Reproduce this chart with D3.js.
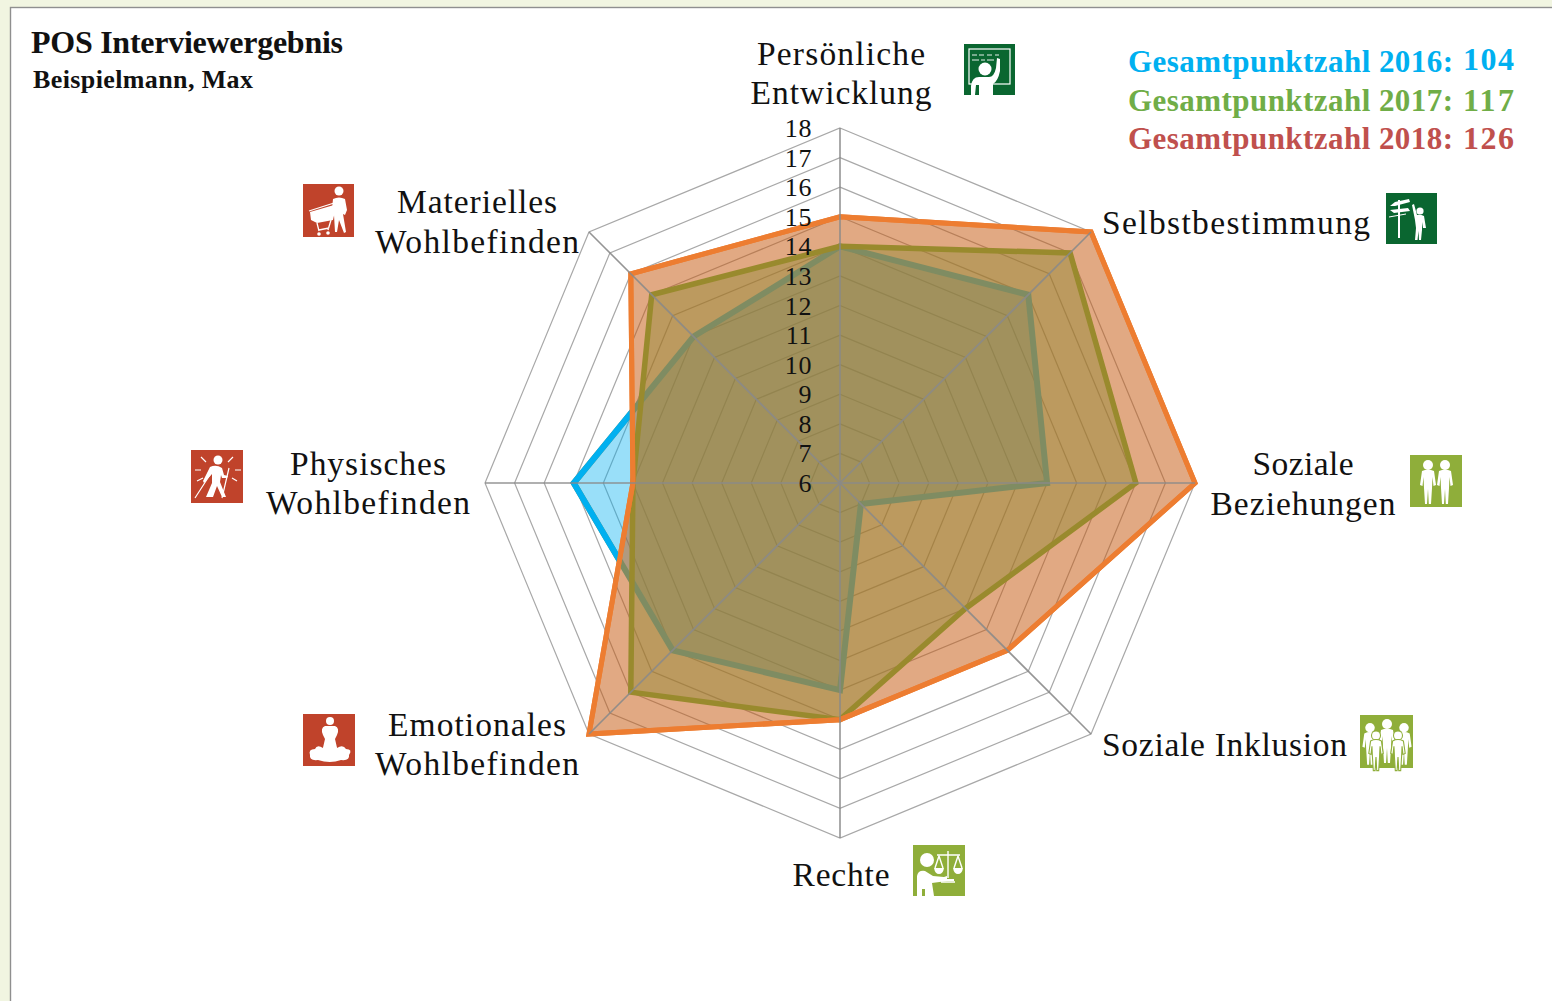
<!DOCTYPE html>
<html><head><meta charset="utf-8">
<script src="https://cdnjs.cloudflare.com/ajax/libs/d3/7.8.5/d3.min.js"></script>
<style>html,body{margin:0;padding:0;background:#f1f5e1;overflow:hidden}svg{display:block}
text{font-family:"Liberation Serif",serif;fill:#111}</style></head><body>
<svg id="c" width="1552" height="1001"></svg>
<script>
// ---- data ----
const categories = ["Persönliche Entwicklung","Selbstbestimmung","Soziale Beziehungen","Soziale Inklusion","Rechte","Emotionales Wohlbefinden","Physisches Wohlbefinden","Materielles Wohlbefinden"];
const tickValues = [6,7,8,9,10,11,12,13,14,15,16,17,18];
const values2016 = [14,15,13,7,13,14,15,13];
const values2017 = [14,17,16,12,14,16,13,15];
const values2018 = [15,18,18,14,14,18,13,16];
const legendLabels = ["Gesamtpunktzahl 2016:","Gesamtpunktzahl 2017:","Gesamtpunktzahl 2018:"];
const legendTotals = [104,117,126];
const titleText = "POS Interviewergebnis";
const subtitleText = "Beispielmann, Max";

// ---- layout ----
const cx=840, cy=483, R=355;
const svg=d3.select("#c");
const r=d3.scaleLinear().domain([6,18]).range([0,R]);
const angle=d3.scaleLinear().domain([0,categories.length]).range([0,2*Math.PI]);
const radial=d3.lineRadial().angle((d,i)=>angle(i)).radius(d=>r(d)).curve(d3.curveLinearClosed);

svg.append("rect").attr("x",10.5).attr("y",7.5).attr("width",1560).attr("height",1010)
  .attr("fill","#fff").attr("stroke","#8f8f8f").attr("stroke-width",1.4);

const g=svg.append("g").attr("transform",`translate(${cx},${cy})`);
// rings
g.selectAll("path.ring").data(tickValues.slice(1)).join("path").attr("class","ring")
  .attr("d",v=>radial(categories.map(()=>v))).attr("fill","none").attr("stroke","#a8a8a8").attr("stroke-width",1.2);
// series
const seriesStyle=[
 {v:values2016,s:"#00b0f0",f:"#00b0f0",o:.40,w:6},
 {v:values2017,s:"#70ad47",f:"#52b857",o:.45,w:5.5},
 {v:values2018,s:"#ed7d31",f:"#c55a11",o:.52,w:5}];
seriesStyle.forEach(d=>{
  g.append("path").attr("d",radial(d.v)).attr("fill",d.f).attr("fill-opacity",d.o).attr("stroke","none");
});
seriesStyle.forEach((d,i)=>{
  g.append("path").attr("d",radial(d.v)).attr("fill","none")
   .attr("stroke",["#7f8c62","#998a2d","#ed7d31"][i]).attr("stroke-width",d.w).attr("stroke-linejoin","miter");
});
// blue outline only where it is not covered by the other fills
const clip=svg.append("defs").append("clipPath").attr("id","outside");
clip.append("path").attr("clip-rule","evenodd")
  .attr("d",`M-900 -600H900V600H-900Z ${radial(values2018)}`);
g.append("path").attr("d",radial(values2016)).attr("fill","none").attr("stroke","#00b0f0")
  .attr("stroke-width",6).attr("clip-path","url(#outside)");
g.append("path").attr("d",radial(values2018)).attr("fill","none").attr("stroke","#ed7d31").attr("stroke-width",5);
// spokes
g.selectAll("line.spoke").data(categories).join("line").attr("class","spoke")
  .attr("x1",0).attr("y1",0)
  .attr("x2",(d,i)=>R*Math.sin(angle(i))).attr("y2",(d,i)=>-R*Math.cos(angle(i)))
  .attr("stroke","#8a8a8a").attr("stroke-width",1.6).attr("stroke-opacity",.9);
// tick labels
g.selectAll("text.tick").data(tickValues).join("text").attr("class","tick")
  .attr("x",-28).attr("y",v=>-r(v)+9).attr("text-anchor","end")
  .attr("font-size",26).attr("letter-spacing",.6).text(d=>d);

// title
svg.append("text").attr("x",31).attr("y",53).attr("font-size",32).attr("font-weight",700).attr("textLength",312).text(titleText);
svg.append("text").attr("x",33).attr("y",88).attr("font-size",26).attr("font-weight",700).attr("textLength",220).text(subtitleText);

// legend
const legendColors=["#00b0f0","#70ad47","#c0504d"];
const legendBase=[72,111,149], totalBase=[70,111,149];
legendLabels.forEach((t,i)=>{
  svg.append("text").attr("x",1128).attr("y",legendBase[i]).attr("font-size",31).attr("font-weight",700)
    .attr("textLength",325).style("fill",legendColors[i]).text(t);
  svg.append("text").attr("x",1463).attr("y",totalBase[i]).attr("font-size",32).attr("font-weight",700)
    .attr("textLength",51).style("fill",legendColors[i]).text(legendTotals[i]);
});

// category labels (text lines, widths, anchor, x, baselines)
const labelLayout=[
 {l:["Persönliche","Entwicklung"],w:[168,181],x:841,y:[65,104],a:"middle"},
 {l:["Selbstbestimmung"],w:[268],x:1102,y:[234],a:"start"},
 {l:["Soziale","Beziehungen"],w:[101,185],x:1303,y:[475,515],a:"middle"},
 {l:["Soziale Inklusion"],w:[245],x:1102,y:[756],a:"start"},
 {l:["Rechte"],w:[97],x:841,y:[886],a:"middle"},
 {l:["Emotionales","Wohlbefinden"],w:[178,204],x:477,y:[736,775],a:"middle"},
 {l:["Physisches","Wohlbefinden"],w:[156,204],x:368,y:[475,514],a:"middle"},
 {l:["Materielles","Wohlbefinden"],w:[160,204],x:477,y:[213,253],a:"middle"}];
labelLayout.forEach(o=>o.l.forEach((t,i)=>{
  svg.append("text").attr("x",o.x).attr("y",o.y[i]).attr("text-anchor",o.a)
    .attr("font-size",33.5).attr("textLength",o.w[i]).text(t);
}));

// pictograms
const person=(x,y,s=1,arm="")=>`<g transform="translate(${x},${y}) scale(${s})"><circle cx="0" cy="-15" r="5"/><path d="M-6-9Q0-12 6-9L8 5 5.5 6 4.5-3 4 8 3 24H.8L0 9-1 24H-3L-4 8-4.5-3-5.500 6-8 5Z"/>${arm}</g>`;
const L='fill="none" stroke="#fff"';
const iconLayout=[
 {x:964,y:44,w:51,h:51,c:"#0a6630",k:`<rect x="5" y="5" width="41" height="35" fill="none" stroke="#fff" stroke-width="1.2"/>
   <path ${L} stroke-width=".9" d="M8 11h5m2 0h5m3 0h5m3 0h4M8 16h7m2 0h4m2 0h7"/>
   <circle cx="21" cy="25" r="6.500"/><path d="M7 51V42Q8 33 15 33H25Q30 33 32 24L33 14 36 15 36 27Q34 37 29 40V51H15V41L12 41 11 51Z"/>`},
 {x:1386,y:193,w:51,h:51,c:"#0a6630",k:`<path d="M12 7h2v38h-2z"/><path d="M4 13 9 9 23 6 24 9 9 13ZM4 17 22 15 24 18 8 20Z"/><path ${L} stroke-width="1" d="M3 24 20 21"/>
   <circle cx="34" cy="18" r="3.600"/><path d="M26 12 28 11 31 22Q34 21 38 23L40 35 37 35 36 29 36 37 35 47H33L32.500 38 31.500 47H29L30 35 29 27Z"/>`},
 {x:1410,y:455,w:52,h:52,c:"#8fae3a",k:person(18,25,1)+person(35,25,1)},
 {x:1360,y:715,w:53,h:53,c:"#8fae3a",k:person(27,24,1)+person(10,27,.95)+person(44,27,.95)+`<g stroke="#8fae3a" stroke-width="1.200">`+person(16,34,.9)+person(38,34,.9)+`</g>`},
 {x:913,y:845,w:52,h:51,c:"#8fae3a",k:`<circle cx="14" cy="15" r="7"/><path d="M4 51V31Q5 25 12 26L20 31 31 32 34 31V36L19 38 21 51H12V44H9V51Z"/>
   <path ${L} stroke-width="1.400" d="M35 6V33M28 37H42M24 10H47M26 11 22 23M26 11 30 23M45 11 41 23M45 11 49 23"/><path d="M21 23H31Q30 29 26 29 22 29 21 23ZM40 23H50Q49 29 45 29 41 29 40 23ZM30 34H41V36H30Z"/>`},
 {x:303,y:714,w:52,h:52,c:"#c0432b",k:`<circle cx="27" cy="7" r="4"/><path d="M20 21Q17 14 22 12H32Q37 14 34 21L32 25 35 38H19L22 25Z"/><path d="M7 41Q5 35 12 35 14 30 20 34H34Q40 30 43 35 50 35 46 41 47 47 38 46 27 50 15 46 6 47 7 41Z"/>`},
 {x:191,y:450,w:52,h:53,c:"#c0432b",k:`<circle cx="27" cy="10" r="4.500"/><path d="M19 17Q25 14 31 18L33 25 37 26 36 28 31 28 30 25 29 32 35 47H31L26 36 22 47H15L21 33 21 24 13 33 12 31Z"/>
   <path ${L} stroke-width="1.200" d="M22 20 4 48M38 18 31 48M10 7 15 12M42 7 37 12M4 20H10M44 20H50M6 31 12 28M46 31 41 28"/>`},
 {x:303,y:184,w:51,h:53,c:"#c0432b",k:`<circle cx="36" cy="7" r="4.500"/><path d="M30 15Q36 12 42 15L44 26 42 31 40 30 41 36 43 48 41 49 36 36 34 48H32L31 31 29 25Z"/>
   <path d="M7 28 31 21 33 23 30 36 14 39 8 36Z"/><path ${L} stroke-width="1.300" d="M14 39 16 47M28 36 25 46M16 46 26 44M6 27 31 19"/><circle cx="16" cy="50" r="1.800"/><circle cx="25" cy="49" r="1.800"/>`}
];
iconLayout.forEach(ic=>{
  const gi=svg.append("g").attr("transform",`translate(${ic.x},${ic.y})`);
  gi.append("rect").attr("width",ic.w).attr("height",ic.h).attr("fill",ic.c);
  gi.append("g").attr("fill","#fff").html(ic.k);
});
</script></body></html>
